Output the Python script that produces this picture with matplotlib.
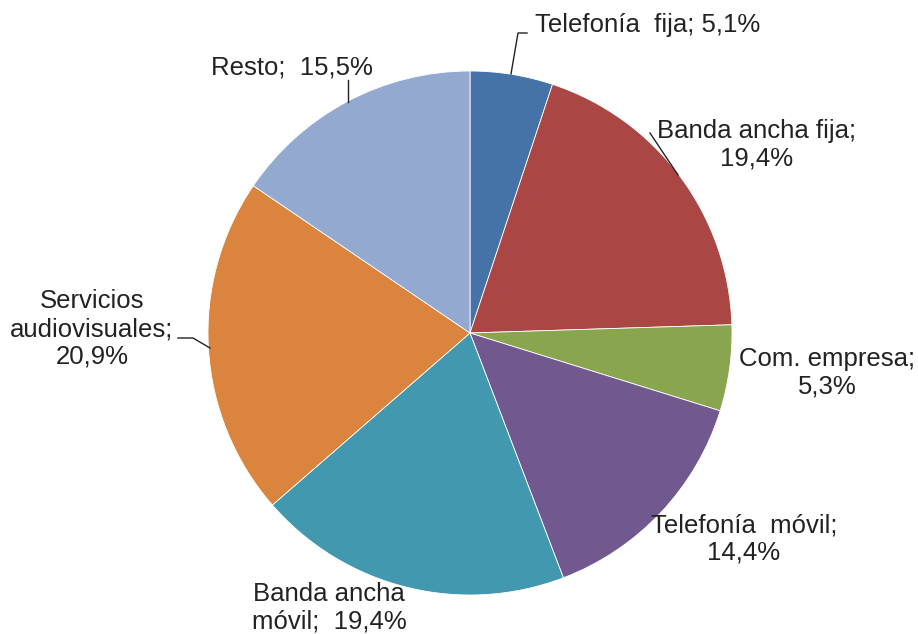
import matplotlib.pyplot as plt

plt.rcParams['font.family'] = ['Liberation Sans', 'DejaVu Sans']

#---------DATA------------
categorias = ['Telefonía fija', 'Banda ancha fija', 'Com. empresa', 'Telefonía móvil',
              'Banda ancha móvil', 'Servicios audiovisuales', 'Resto']
porcentajes = [5.1, 19.4, 5.3, 14.4, 19.4, 20.9, 15.5]
colores = ['#4572A7', '#AA4643', '#89A54E', '#71588F', '#4198AF', '#DB843D', '#93A9CF']

# label text (with manual line breaks) and where it sits, in pixels from top-left
etiquetas = [
    ('Telefonía  fija; 5,1%', 535, 25, 'left'),
    ('Banda ancha fija;\n19,4%', 757, 145, 'center'),
    ('Com. empresa;\n5,3%', 827, 373, 'center'),
    ('Telefonía  móvil;\n14,4%', 744, 539, 'center'),
    ('Banda ancha\nmóvil;  19,4%', 329, 608, 'center'),
    ('Servicios\naudiovisuales;\n20,9%', 92, 329, 'center'),
    ('Resto;  15,5%', 292, 67, 'center'),
]
# leader lines (pixel coords)
lineas = [
    [(511, 74), (518, 33), (527, 33)],
    [(650, 133), (678, 175)],
    [(178, 338), (193, 338), (210, 348)],
    [(348, 80), (348, 102)],
]

W, H = 918, 634
fig = plt.figure(figsize=(W / 100, H / 100), dpi=100)
ax = fig.add_axes([0, 0, 1, 1])
ax.set_xlim(0, W)
ax.set_ylim(0, H)
ax.set_aspect('equal')
ax.axis('off')

#---------PIE------------
ax.pie(porcentajes, colors=colores, startangle=90, counterclock=False,
       center=(470, H - 333), radius=262,
       wedgeprops=dict(edgecolor='white', linewidth=0.6))

for txt, x, y, ha in etiquetas:
    ax.text(x, H - y, txt, ha=ha, va='center', fontsize=18.5, color='#222222',
            linespacing=1.2)

for pts in lineas:
    xs = [p[0] for p in pts]
    ys = [H - p[1] for p in pts]
    ax.plot(xs, ys, color='#222222', lw=1.0)

ax.set_xlim(0, W)
ax.set_ylim(0, H)
fig.savefig('out.png', dpi=100)
